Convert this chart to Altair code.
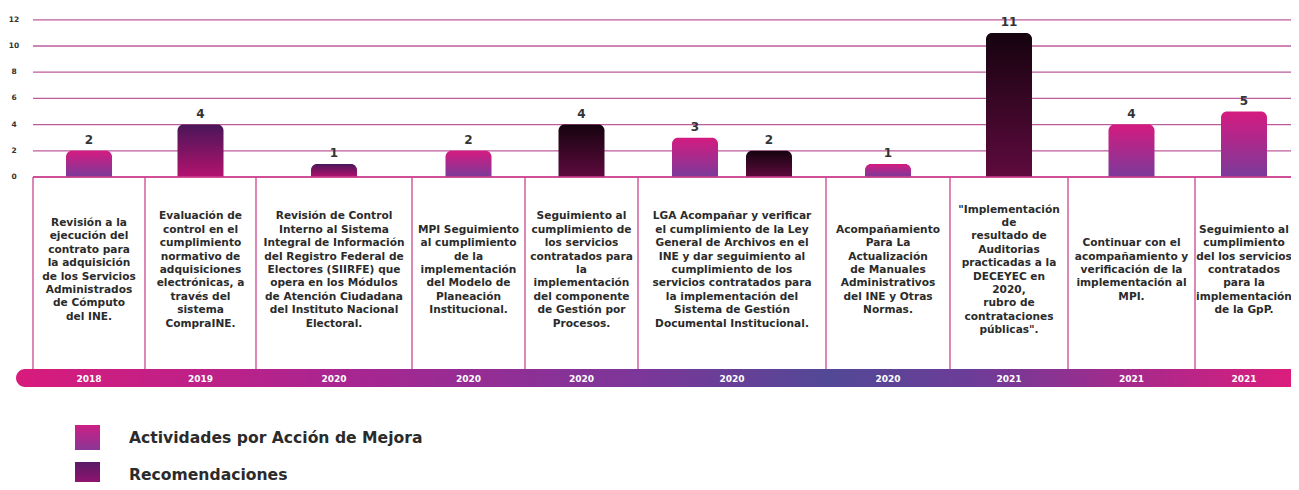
import altair as alt
import pandas as pd

# ---------------- data ----------------
tick_values = [0, 2, 4, 6, 8, 10, 12]

years = ["2018", "2019", "2020", "2020", "2020", "2020", "2020", "2021", "2021", "2021"]

descriptions = [
    ["Revisión a la", "ejecución del", "contrato para", "la adquisición", "de los Servicios",
     "Administrados", "de Cómputo", "del INE."],
    ["Evaluación de", "control en el", "cumplimiento", "normativo de", "adquisiciones",
     "electrónicas, a", "través del", "sistema", "CompraINE."],
    ["Revisión de Control", "Interno al Sistema", "Integral de Información",
     "del Registro Federal de", "Electores (SIIRFE) que", "opera en los Módulos",
     "de Atención Ciudadana", "del Instituto Nacional", "Electoral."],
    ["MPI Seguimiento", "al cumplimiento", "de la", "implementación", "del Modelo de",
     "Planeación", "Institucional."],
    ["Seguimiento al", "cumplimiento de", "los servicios", "contratados para", "la",
     "implementación", "del componente", "de Gestión por", "Procesos."],
    ["LGA Acompañar y verificar", "el cumplimiento de la Ley", "General de Archivos en el",
     "INE y dar seguimiento al", "cumplimiento de los", "servicios contratados para",
     "la implementación del", "Sistema de Gestión", "Documental Institucional."],
    ["Acompañamiento", "Para La", "Actualización", "de Manuales", "Administrativos",
     "del INE y Otras", "Normas."],
    ["\"Implementación", "de", "resultado de", "Auditorias", "practicadas a la",
     "DECEYEC en", "2020,", "rubro de", "contrataciones", "públicas\"."],
    ["Continuar con el", "acompañamiento y", "verificación de la", "implementación al", "MPI."],
    ["Seguimiento al", "cumplimiento", "del los servicios", "contratados", "para la",
     "implementación", "de la GpP."],
]

bar_values = [2, 4, 1, 2, 4, 3, 2, 1, 11, 4, 5]
bar_series = ["Actividades por Acción de Mejora", "Recomendaciones", "Recomendaciones",
              "Actividades por Acción de Mejora", "Recomendaciones",
              "Actividades por Acción de Mejora", "Recomendaciones",
              "Actividades por Acción de Mejora", "Recomendaciones",
              "Actividades por Acción de Mejora", "Actividades por Acción de Mejora"]
bar_shade = ["pink", "purple", "purple", "pink", "black", "pink", "black", "pink", "black",
             "pink", "pink"]
bar_column = [0, 1, 2, 3, 4, 5, 5, 6, 7, 8, 9]

legend_labels = ["Actividades por Acción de Mejora", "Recomendaciones"]

# ---------------- layout (reference pixel units) ----------------
W, H = 1283, 474
col_edges = [33, 145, 256, 412, 525, 638, 826, 950, 1068, 1195, 1293]
pair_offset = 37
bar_half = 23
BASE_Y = 177.0
UNIT = 13.1
TEXT_CENTER = 270.0
LINE_H = 13.4


def yv(px):
    return (BASE_Y - px) / UNIT


FONT = "DejaVu Sans"
TXT = "#2b2b2b"

xs = alt.Scale(domain=[8, 8 + W], nice=False, zero=False)
ys = alt.Scale(domain=[yv(8 + H), yv(8)], nice=False, zero=False)


def X(f):
    return alt.X(f, type="quantitative", scale=xs, axis=None)


def Y(f):
    return alt.Y(f, type="quantitative", scale=ys, axis=None)


centers = [(col_edges[i] + col_edges[i + 1]) / 2 for i in range(len(col_edges) - 1)]

# bars
rows = []
seen = {}
for i, (v, s, sh, c) in enumerate(zip(bar_values, bar_series, bar_shade, bar_column)):
    n = bar_column.count(c)
    k = seen.get(c, 0)
    seen[c] = k + 1
    cx = centers[c] + (0 if n == 1 else (-pair_offset if k == 0 else pair_offset))
    rows.append(dict(value=v, series=s, shade=sh, x=cx - bar_half, x2=cx + bar_half, cx=cx, y0=0))
bars_df = pd.DataFrame(rows)


def grad_v(top, bottom):
    return alt.Gradient(gradient="linear", x1=0, x2=0, y1=0, y2=1,
                        stops=[alt.GradientStop(color=top, offset=0),
                               alt.GradientStop(color=bottom, offset=1)])


shades = {
    "pink": grad_v("#d41b80", "#7b3a9a"),
    "purple": grad_v("#4a1658", "#b3126f"),
    "black": grad_v("#15030f", "#5e0a3d"),
}

layers = []

# gridlines
grid_df = pd.DataFrame({"v": tick_values, "x": 33, "x2": 1300})
layers.append(alt.Chart(grid_df).mark_rule(color="#bd5c9c", strokeWidth=1.3, clip=True).encode(
    x=X("x"), x2="x2", y=Y("v")))

# y tick labels
layers.append(alt.Chart(grid_df.assign(lx=14, t=grid_df["v"].astype(str))).mark_text(
    font=FONT, fontWeight="bold", fontSize=7.5, color="#333333", align="center", baseline="middle"
).encode(x=X("lx"), y=Y("v"), text="t:N"))

# bars
for key, g in shades.items():
    sub = bars_df[bars_df["shade"] == key]
    layers.append(alt.Chart(sub).mark_bar(
        color=g, cornerRadiusTopLeft=6, cornerRadiusTopRight=6, clip=True
    ).encode(x=X("x"), x2="x2", y=Y("value"), y2="y0",
             tooltip=["series:N", "value:Q"]))

# bar labels
layers.append(alt.Chart(bars_df).mark_text(
    font=FONT, fontWeight="bold", fontSize=12, color="#333333", baseline="bottom", dy=-4,
    clip=True
).encode(x=X("cx"), y=Y("value"), text="value:Q"))

# boxes: vertical separators (the last box runs off the right edge)
edge_df = pd.DataFrame({"x": col_edges[:-1], "y": 0.0, "y2": yv(370)})
layers.append(alt.Chart(edge_df).mark_rule(color="#c9468f", strokeWidth=1.3, clip=True).encode(
    x=X("x"), y=Y("y"), y2="y2"))

# baseline 0 (pink, top of boxes)
base_df = pd.DataFrame({"x": [33], "x2": [1300], "y": [0.0]})
layers.append(alt.Chart(base_df).mark_rule(color="#cf3f8e", strokeWidth=1.5, clip=True).encode(
    x=X("x"), x2="x2", y=Y("y")))

# descriptions (first line placed so that each block is vertically centred)
desc_df = pd.DataFrame({
    "cx": centers,
    "t": ["\n".join(d) for d in descriptions],
    "y": [yv(TEXT_CENTER - (len(d) - 1) * LINE_H / 2) for d in descriptions],
})
layers.append(alt.Chart(desc_df).mark_text(
    font=FONT, fontWeight="bold", fontSize=10.6, color=TXT,
    lineBreak="\n", lineHeight=LINE_H, align="center", baseline="middle", clip=True
).encode(x=X("cx"), y=Y("y"), text="t:N"))

# timeline band
band_grad = alt.Gradient(gradient="linear", x1=0, x2=1, y1=0, y2=0, stops=[
    alt.GradientStop(color="#d81b7c", offset=0.0),
    alt.GradientStop(color="#aa2590", offset=0.25),
    alt.GradientStop(color="#7d3699", offset=0.48),
    alt.GradientStop(color="#524896", offset=0.63),
    alt.GradientStop(color="#6c3d98", offset=0.74),
    alt.GradientStop(color="#a42a8c", offset=0.86),
    alt.GradientStop(color="#e01c7b", offset=1.0),
])
band_df = pd.DataFrame({"x": [16], "x2": [1305], "y": [yv(369)], "y2": [yv(387)]})
layers.append(alt.Chart(band_df).mark_rect(color=band_grad, cornerRadius=9, clip=True).encode(
    x=X("x"), x2="x2", y=Y("y"), y2="y2"))

# year labels
year_df = pd.DataFrame({"cx": centers, "t": years, "y": yv(378.5)})
layers.append(alt.Chart(year_df).mark_text(
    font=FONT, fontWeight="bold", fontSize=9, color="#ffffff", align="center", baseline="middle"
).encode(x=X("cx"), y=Y("y"), text="t:N"))

# legend
leg_df = pd.DataFrame({
    "label": legend_labels,
    "x": [75, 75], "x2": [100, 100],
    "y": [yv(425), yv(462)], "y2": [yv(450), yv(487)],
    "ty": [yv(437.5), yv(474.5)], "tx": [129, 129],
})
layers.append(alt.Chart(leg_df.iloc[[0]]).mark_rect(
    color=grad_v("#cc2084", "#8a3696"), clip=True).encode(
    x=X("x"), x2="x2", y=Y("y"), y2="y2"))
layers.append(alt.Chart(leg_df.iloc[[1]]).mark_rect(
    color=grad_v("#5a1a66", "#9c1272"), clip=True).encode(
    x=X("x"), x2="x2", y=Y("y"), y2="y2"))
layers.append(alt.Chart(leg_df).mark_text(
    font=FONT, fontWeight="bold", fontSize=15.6, color=TXT, align="left",
    baseline="middle"
).encode(x=X("tx"), y=Y("ty"), text="label:N"))

chart = alt.layer(*layers).properties(width=W, height=H, padding=0).configure_view(stroke=None)

chart.save("out.html", embed_options={"renderer": "svg", "actions": False})
